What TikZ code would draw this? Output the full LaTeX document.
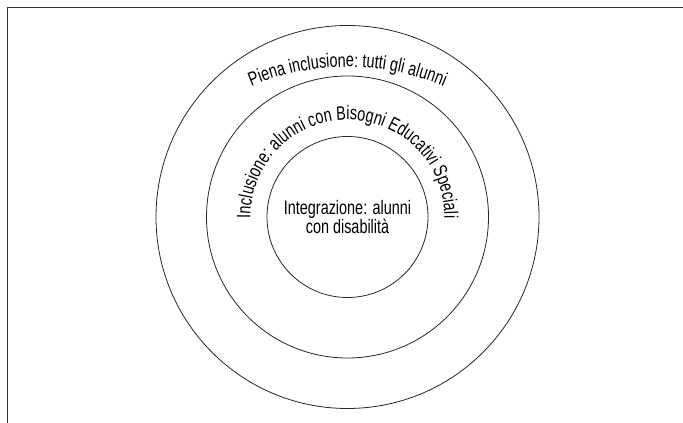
\documentclass[tikz,border=0pt]{standalone}
\usepackage{fontspec}
\newfontfamily\ringfam[FakeStretch=0.74]{Liberation Sans}
\newcommand{\ringfont}{\ringfam\fontsize{19.5pt}{19pt}\selectfont}
\usepackage{tikz}
\usetikzlibrary{calc, decorations.text}

\begin{document}
\begin{tikzpicture}[
  x=1pt, y=1pt,
  ring/.style={circle, draw=black!85, line width=0.8pt, inner sep=0pt},
  arctext/.style={decorate, decoration={text along path,
    text align=center, text={#1}}},
  frame/.style={draw=black!80, line width=1pt}
]
  \useasboundingbox (0,0) rectangle (683,423);

  %% frame: top and left edge only
  \coordinate (fbot) at (7,0);
  \coordinate (ftop) at (683,415);
  \draw[frame] (fbot) |- (ftop);

  %% rings
  \coordinate (ctr) at (347.5,206);
  \node[ring, minimum size=383pt] (outer) at (ctr) {};
  \node[ring, minimum size=282pt] (middle) at (ctr) {};
  \node[ring, minimum size=161pt, font=\ringfont, align=center] (inner) at (ctr)
    {Integrazione: alunni\\con disabilità};

  %% curved labels
  \coordinate (flat) at (347.5,106);
  \path[arctext={|\ringfont|Piena inclusione: tutti gli alunni}]
    ($(flat)+(125:250pt)$) arc[start angle=125, end angle=55, radius=250pt];
  \path[arctext={|\ringfont|Inclusione: alunni con Bisogni Educativi Speciali}]
    ($(ctr)+(200:97pt)$) arc[start angle=200, end angle=-20, radius=97pt];
\end{tikzpicture}
\end{document}
